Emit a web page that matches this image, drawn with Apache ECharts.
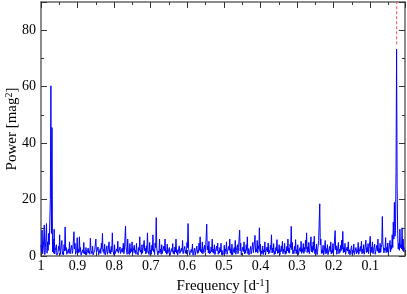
<!DOCTYPE html>
<html>
<head>
<meta charset="utf-8">
<script src="https://cdn.jsdelivr.net/npm/echarts@6/dist/echarts.min.js"></script>
<style>
html,body{margin:0;padding:0;background:#fff;}
#chart{width:407px;height:294px;}
</style>
</head>
<body>
<div id="chart"></div>
<script>
// Frequency grid of the periodogram (d^-1): first value and spacing
var freqStart = 1.0;
var freqStep = 0.003;
// Power values (mag^2), one per frequency step
var power = [
4,9.2,2.5,11,3,11.5,5,8,12,60.3,45.5,6,9.5,2,4,1,3.5,7.5,2,5.5,
1.5,4,10.3,3,1,2.5,5,1.2,3.8,2,8.6,4.5,1,6.5,2.5,6.8,3,0.8,2.2,4.8,
1.5,3,0.6,2.8,1.8,6.3,2,3.5,1,2.2,6,1.6,3.2,0.9,2.6,4.5,8,2.4,4.2,1.2,
3.6,1.4,5,2.2,3.4,8.2,1.8,4,0.7,2.5,5.2,1.6,3.2,1,2.8,4.5,2,10.6,3.5,6,
1.8,4.4,2.6,5,1.2,3.8,2,4.5,1.5,3,6.8,2.2,4,1.4,5.5,2.8,3.6,8.2,2.5,4.8,
1.6,3.8,7.5,2.4,4.6,13.6,3.2,1.8,6,2.5,4,1.2,3.5,6,2,4.2,1.5,3,0.8,2.6,
4.4,1.8,3.2,6,2.2,1,3.6,1.5,2.8,5.5,1.4,3.4,2,4.8,11.5,3,1.2,2.4,4.2,1,
2.8,0.8,3.5,2,4.6,6.8,2.4,5,1.5,3.8,2.5,11.3,3.6,5.2,1.8,3.2,6,2.4,4,1.6,
3.5,4.6,1.8,3,4.5,2,1,3.8,2.5,5,1.6,3.4,6,2.6,4.2,1.2,3,5.5,2,4,
3,9.2,4.5,1.5,3.2,5,2.2,4,6.8,2.6,1.2,3.4,2,4.8,3,7.3,2.5,5.5,3.6,10,
4.2,1.8,3.5,2.2,5,1.5,3.2,4.6,2,3.8,7.5,2.8,4.4,1.6,3,5.8,2.2,4,1.2,3.6,
5.2,2.4,4.5,1.8,3.4,6,2.8,4.2,10.5,4.8,2,3.5,5.8,2.2,4,1.4,3,5.2,2.6,4.4,
3,5.6,8.2,3.2,4.8,2,6.8,3.5,5,7,2.4,4.2,1.6,5.5,18.5,6,2.2,3.8,1.4,5.5,
2.6,4,1.2,3.4,5,2,4.4,2.8,9,3.6,1.6,4.8,2.4,3.8,5.6,8.7,3,4.5,1.8,3.2,
5,2.2,1,3.6,2,4.2,1.4,3,2.2,4.8,1.6,3.4,5.2,2.4,4,1.8,5.6,3,4.4,2.6,
7,3.2,5,2,4.2,1.6,3.8,6,2.6,4.5,3,14,5.2,2.8,6.5,3,4.6,2.2,5.5,3.8,
7.5,12,19,9,73.3,8,4.5,9.5,4,10,6,3
];
// Power values read at the half steps between the values above
var powerHalf = [
1.5,0.8,6,0.5,7,1,2,4,20,8,1.5,1,0.7,2.5,0.3,1.2,2,0.5,1.8,0.6,
0.4,1.8,2,0.6,0.3,1,0.8,0.4,0.9,1.5,2.5,0.6,2,0.9,1.2,1.5,0.3,0.5,1,0.7,
0.5,0.4,0.2,1,0.6,2,0.8,0.4,0.3,1.5,1.2,0.5,0.4,0.6,0.9,2.5,1.6,0.8,0.4,0.5,
0.6,1.2,1,0.7,1.5,2,0.4,0.8,0.3,1.6,1,0.5,0.9,0.4,1.3,0.8,2.5,3,0.6,1.4,
0.5,1,1.6,0.8,0.4,1.2,0.6,1.5,0.4,2,1.4,0.6,1,0.5,1.8,0.7,1.2,2,0.5,1.4,
0.6,2,1.5,0.5,3,2.5,0.4,1,1.3,0.6,0.9,0.4,1.8,1.2,0.6,0.9,0.4,0.3,0.5,1.5,
0.8,0.6,1.4,1,0.3,0.5,0.9,0.6,1.6,0.8,0.5,1,0.7,3,2.6,0.4,0.5,1.2,0.3,0.6,
0.3,0.5,0.9,1.2,2,1.5,1,0.8,0.6,1.2,2.4,2.2,1.1,0.7,1,1.6,1.3,0.9,0.5,1.2,
1.8,0.6,1,1.5,0.5,0.3,1.2,0.7,1.6,0.6,0.9,2,1,0.5,0.4,1.5,1.2,0.6,1.4,0.8,
2.5,1.8,0.4,0.9,1.6,0.7,1,2,0.8,0.4,0.6,0.7,1.5,1.2,2.4,1.3,1.5,1,2.6,1.6,
0.6,1,0.5,1.4,0.4,0.8,1.5,0.7,1.2,2.2,1.1,1.3,0.5,0.8,1.9,0.9,1.1,0.4,1,1.6,
0.8,1.4,0.6,0.9,1.8,1.2,1,3,2.2,0.7,0.9,1.8,0.8,1.2,0.5,0.8,1.6,0.9,1.5,0.9,
1.6,2.5,1.2,1.4,0.8,2,1.5,1.3,2,0.8,1.1,0.5,1.6,5,4,0.9,1,0.4,1.8,0.8,
1,0.5,0.9,1.5,0.7,1,1.2,2.5,2.2,0.6,1,0.8,1.3,1.9,2.4,1.2,1.4,0.6,1.1,1.7,
0.8,0.4,1,0.6,1.2,0.5,0.9,0.7,1.3,0.6,0.9,1.6,0.8,1.1,0.6,1.5,1.2,1.4,0.8,2,
1.5,1.2,0.8,1.3,0.6,1,1.7,1.2,1.1,1.3,4,4.5,1.1,2,1.2,1.4,0.9,1.6,1.4,2.4,
3,6,7,30,25,2.5,2,3,2.5,2,1.5
];
// Marked peak frequency and the extent of the dashed marker
var peakFreq = 0.028;
var markerRange = [75, 90];

var xTicks = ['1','0.9','0.8','0.7','0.6','0.5','0.4','0.3','0.2','0.1'];

var seriesData = [];
power.forEach(function (p, i) {
  var f = freqStart - i * freqStep;
  seriesData.push([+f.toFixed(5), p]);
  if (i < powerHalf.length) seriesData.push([+(f - freqStep / 2).toFixed(5), powerHalf[i]]);
});

var font = 'Liberation Serif, Times New Roman, serif';
var axisColor = '#666';

function fmtX(v) {
  var t = Math.round(v * 10);
  if (Math.abs(v * 10 - t) > 1e-6 || t < 1) return '';
  return xTicks[10 - t];
}

var common = {
  type: 'value',
  axisLine: {show: true, onZero: false, lineStyle: {color: axisColor, width: 1.5}},
  axisTick: {show: true, inside: true, length: 6, lineStyle: {color: '#333', width: 1}},
  minorTick: {show: true, splitNumber: 2, length: 3, lineStyle: {color: '#333', width: 1}},
  splitLine: {show: false}
};

var chart = echarts.init(document.getElementById('chart'), null, {renderer: 'canvas'});
chart.setOption({
  animation: false,
  backgroundColor: '#fff',
  grid: {left: 41, right: 2, top: 2, bottom: 38, containLabel: false, outerBoundsMode: 'none'},
  xAxis: [
    Object.assign({}, common, {
      position: 'bottom', min: 0.005, max: 1, inverse: true, splitNumber: 10,
      axisLabel: {show: true, formatter: fmtX, color: '#000', fontFamily: font, fontSize: 14, margin: 3, showMinLabel: false},
      name: 'Frequency [d{s|-1}]', nameLocation: 'middle', nameGap: 19,
      nameTextStyle: {color: '#000', fontFamily: font, fontSize: 15,
        rich: {s: {fontFamily: font, fontSize: 10, color: '#000', verticalAlign: 'top', padding: [0, 0, 7, 0]}}}
    }),
    Object.assign({}, common, {
      position: 'top', min: 0.005, max: 1, inverse: true, splitNumber: 10,
      axisLabel: {show: false}
    })
  ],
  yAxis: [
    Object.assign({}, common, {
      position: 'left', min: 0, max: 90, interval: 20,
      axisLabel: {show: true, color: '#000', fontFamily: font, fontSize: 14, margin: 5, showMaxLabel: false},
      name: 'Power [mag{s|2}]', nameLocation: 'middle', nameGap: 20, nameRotate: 90,
      nameMoveOverlap: false,
      nameTextStyle: {color: '#000', fontFamily: font, fontSize: 15,
        rich: {s: {fontFamily: font, fontSize: 10, color: '#000', verticalAlign: 'top', padding: [0, 0, 7, 0]}}}
    }),
    Object.assign({}, common, {
      position: 'right', min: 0, max: 90, interval: 20,
      axisLabel: {show: false}
    })
  ],
  series: [
    {
      type: 'line', xAxisIndex: 0, yAxisIndex: 0,
      data: seriesData, showSymbol: false, symbol: 'none',
      lineStyle: {color: '#0000ff', width: 1}, z: 2
    },
    {
      type: 'line', xAxisIndex: 0, yAxisIndex: 0,
      data: [[peakFreq, markerRange[0]], [peakFreq, markerRange[1]]],
      showSymbol: false, symbol: 'none',
      lineStyle: {color: '#ff6a6a', width: 1.2, type: [3, 2]}, z: 3
    }
  ]
});
</script>
</body>
</html>
